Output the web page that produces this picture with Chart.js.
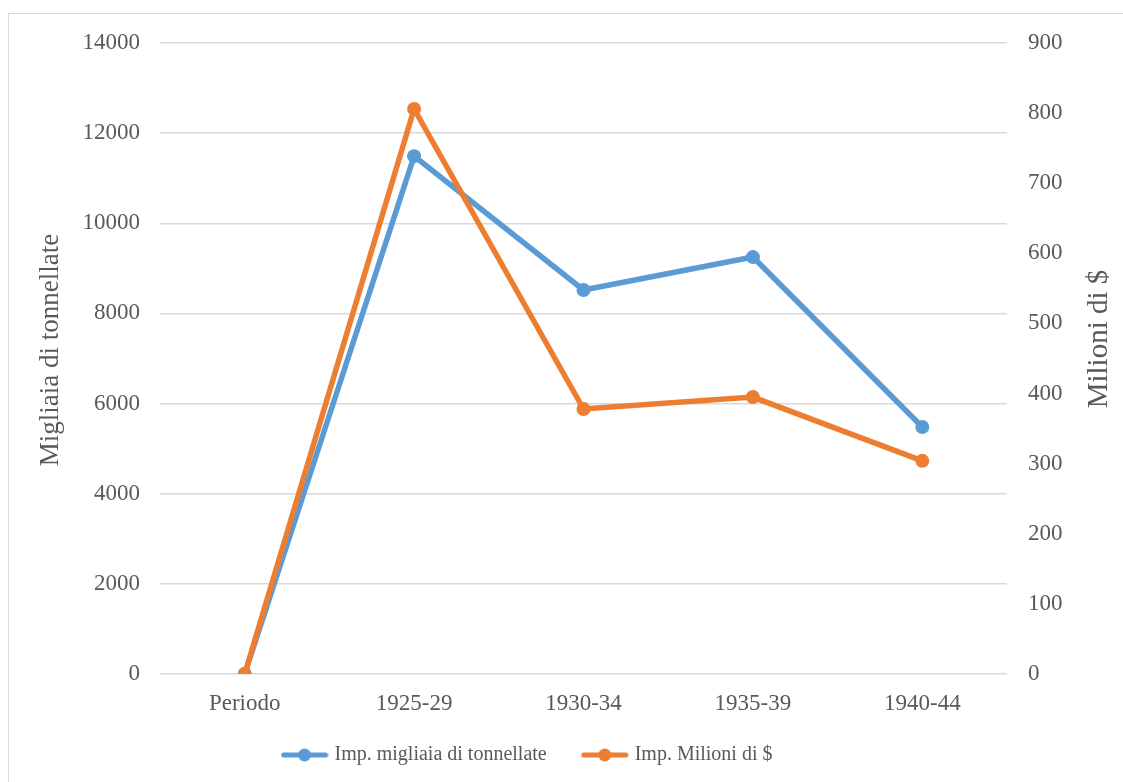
<!DOCTYPE html>
<html>
<head>
<meta charset="utf-8">
<script src="https://cdn.jsdelivr.net/npm/chart.js@4.4.1/dist/chart.umd.min.js"></script>
<style>
  html, body { margin: 0; padding: 0; background: #fff; overflow: hidden; }
  #wrap { position: relative; width: 1123px; height: 782px; }
  #frame { position: absolute; left: 8px; top: 13px; width: 1200px; height: 900px; border: 1px solid #d9d9d9; box-sizing: border-box; }
  canvas { position: absolute; left: 0; top: 0; }
</style>
</head>
<body>
<div id="wrap">
  <div id="frame"></div>
  <canvas id="chart" width="1123" height="782"></canvas>
</div>
<script>
// =========================
// DATA
// =========================

const periodi = ["Periodo", "1925-29", "1930-34", "1935-39", "1940-44"];
const tonnellate = [0, 11490, 8520, 9250, 5480];
const milioniDollari = [0, 806, 378, 395, 304];

const titoloSinistra = "Migliaia di tonnellate";
const titoloDestra = "Milioni di $";

const BLU = "#5b9bd5";
const ARANCIO = "#ed7d31";
const TESTO = "#595959";
const FONT = "'Liberation Serif', 'Times New Roman', serif";

// legend marker: short line with a dot on it
function legendMarker(color) {
  const c = document.createElement("canvas");
  c.width = 48;
  c.height = 16;
  const g = c.getContext("2d");
  g.strokeStyle = color;
  g.lineWidth = 5;
  g.lineCap = "round";
  g.beginPath();
  g.moveTo(3, 8);
  g.lineTo(45, 8);
  g.stroke();
  g.fillStyle = color;
  g.beginPath();
  g.arc(24, 8, 6.5, 0, Math.PI * 2);
  g.fill();
  return c;
}
const markers = [legendMarker(BLU), legendMarker(ARANCIO)];

// axis titles, both reading bottom to top
function drawTitle(ctx, text, size, x, y) {
  ctx.save();
  ctx.fillStyle = TESTO;
  ctx.font = size + "px " + FONT;
  ctx.textAlign = "center";
  ctx.textBaseline = "middle";
  ctx.translate(x, y);
  ctx.rotate(-Math.PI / 2);
  ctx.fillText(text, 0, 0);
  ctx.restore();
}

const axisTitles = {
  id: "axisTitles",
  afterLayout(chart) {
    // move the legend a bit up and left, like the original
    const lg = chart.legend;
    lg.left -= 33;
    lg.right -= 33;
    lg.top -= 7;
    lg.bottom -= 7;
  },
  afterDraw(chart) {
    drawTitle(chart.ctx, titoloSinistra, 27, 51, 350);
    drawTitle(chart.ctx, titoloDestra, 29, 1099, 339);
  },
};

const numero = (v) => String(v);

// =========================
// CHART
// =========================

const chart = new Chart(document.getElementById("chart"), {
  type: "line",
  data: {
    labels: periodi,
    datasets: [
      {
        label: "Imp. migliaia di tonnellate",
        data: tonnellate,
        yAxisID: "y",
        order: 1,
        borderColor: BLU,
        backgroundColor: BLU,
        borderWidth: 5.5,
        pointRadius: 7,
        pointBorderWidth: 0,
        tension: 0,
      },
      {
        label: "Imp. Milioni di $",
        data: milioniDollari,
        yAxisID: "y1",
        order: 0,
        borderColor: ARANCIO,
        backgroundColor: ARANCIO,
        borderWidth: 5.5,
        pointRadius: 7,
        pointBorderWidth: 0,
        tension: 0,
      },
    ],
  },
  options: {
    responsive: false,
    animation: false,
    layout: { padding: { top: 43, right: 0, bottom: 0, left: 0 } },
    plugins: {
      tooltip: { enabled: false },
      legend: {
        position: "bottom",
        labels: {
          usePointStyle: true,
          pointStyleWidth: 40,
          padding: 38,
          color: TESTO,
          font: { family: FONT, size: 20 },
          generateLabels(chart) {
            const items = Chart.defaults.plugins.legend.labels.generateLabels(chart);
            items.sort((a, b) => a.datasetIndex - b.datasetIndex);
            items.forEach((it) => { it.pointStyle = markers[it.datasetIndex]; });
            return items;
          },
        },
      },
    },
    scales: {
      x: {
        offset: true,
        grid: { display: false, drawTicks: false },
        border: { display: false },
        ticks: { color: TESTO, font: { family: FONT, size: 23 }, padding: 16 },
        afterFit(scale) { scale.height = 40; },
      },
      y: {
        position: "left",
        min: 0,
        max: 14000,
        ticks: { stepSize: 2000, color: TESTO, font: { family: FONT, size: 23 }, padding: 20, callback: numero },
        grid: { color: "#d9d9d9", lineWidth: 1.5, drawTicks: false },
        border: { display: false },
        afterFit(scale) { scale.width = 160; },
      },
      y1: {
        position: "right",
        min: 0,
        max: 900,
        ticks: { stepSize: 100, color: TESTO, font: { family: FONT, size: 23 }, padding: 21, callback: numero },
        grid: { display: false, drawTicks: false },
        border: { display: false },
        afterFit(scale) { scale.width = 116; },
      },
    },
  },
  plugins: [axisTitles],
});
</script>
</body>
</html>
